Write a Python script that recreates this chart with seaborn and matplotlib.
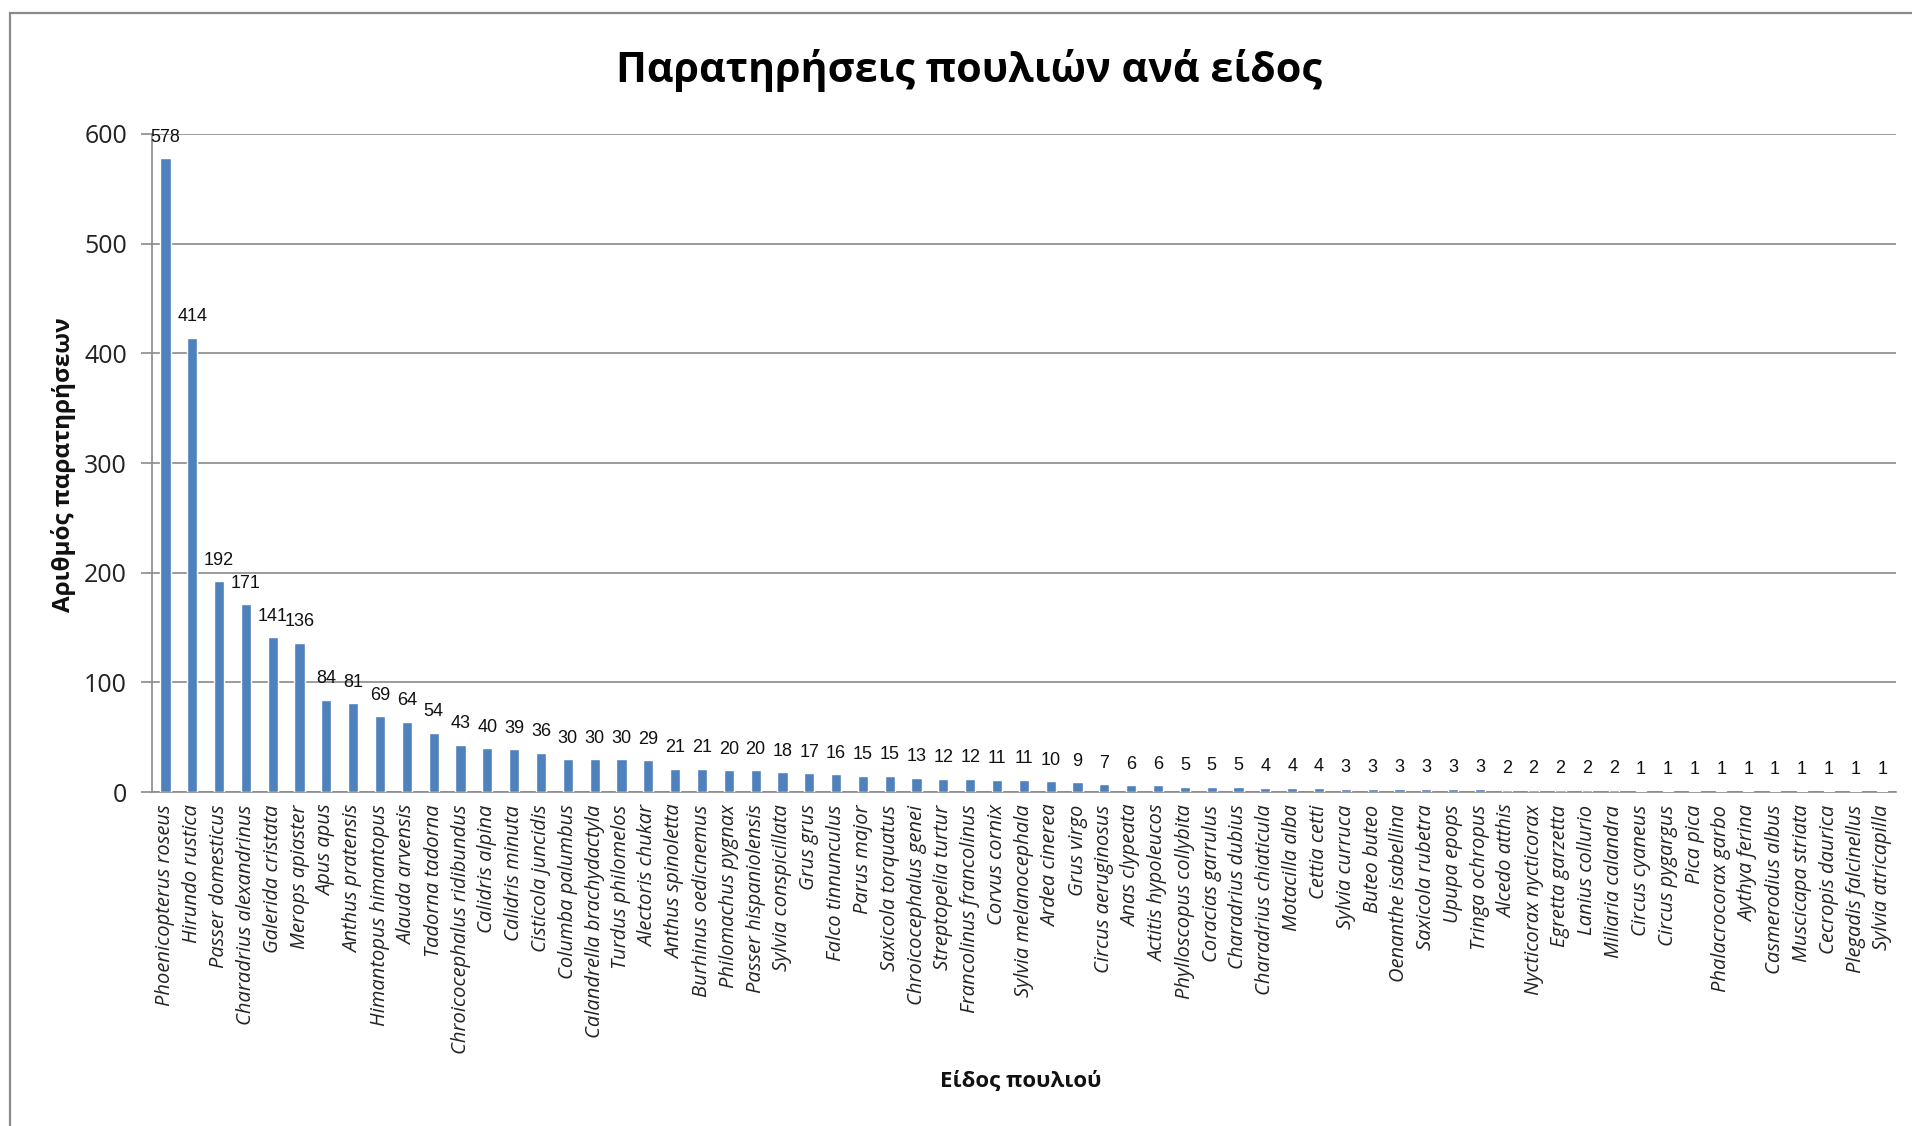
import matplotlib
matplotlib.use("Agg")
import matplotlib.pyplot as plt
import seaborn as sns
import pandas as pd
from matplotlib.patches import Rectangle

species = [
    "Phoenicopterus roseus", "Hirundo rustica", "Passer domesticus", "Charadrius alexandrinus",
    "Galerida cristata", "Merops apiaster", "Apus apus", "Anthus pratensis",
    "Himantopus himantopus", "Alauda arvensis", "Tadorna tadorna", "Chroicocephalus ridibundus",
    "Calidris alpina", "Calidris minuta", "Cisticola juncidis", "Columba palumbus",
    "Calandrella brachydactyla", "Turdus philomelos", "Alectoris chukar", "Anthus spinoletta",
    "Burhinus oedicnemus", "Philomachus pygnax", "Passer hispaniolensis", "Sylvia conspicillata",
    "Grus grus", "Falco tinnunculus", "Parus major", "Saxicola torquatus",
    "Chroicocephalus genei", "Streptopelia turtur", "Francolinus francolinus", "Corvus cornix",
    "Sylvia melanocephala", "Ardea cinerea", "Grus virgo", "Circus aeruginosus",
    "Anas clypeata", "Actitis hypoleucos", "Phylloscopus collybita", "Coracias garrulus",
    "Charadrius dubius", "Charadrius chiaticula", "Motacilla alba", "Cettia cetti",
    "Sylvia curruca", "Buteo buteo", "Oenanthe isabellina", "Saxicola rubetra",
    "Upupa epops", "Tringa ochropus", "Alcedo atthis", "Nycticorax nycticorax",
    "Egretta garzetta", "Lanius collurio", "Miliaria calandra", "Circus cyaneus",
    "Circus pygargus", "Pica pica", "Phalacrocorax garbo", "Aythya ferina",
    "Casmerodius albus", "Muscicapa striata", "Cecropis daurica", "Plegadis falcinellus",
    "Sylvia atricapilla",
]
counts = [
    578, 414, 192, 171, 141, 136, 84, 81, 69, 64, 54, 43, 40, 39, 36, 30,
    30, 30, 29, 21, 21, 20, 20, 18, 17, 16, 15, 15, 13, 12, 12, 11,
    11, 10, 9, 7, 6, 6, 5, 5, 5, 4, 4, 4, 3, 3, 3, 3,
    3, 3, 2, 2, 2, 2, 2, 1, 1, 1, 1, 1, 1, 1, 1, 1,
    1,
]
y_ticks = [0, 100, 200, 300, 400, 500, 600]

title_text = "Παρατηρήσεις πουλιών ανά είδος"
ylabel_text = "Αριθμός παρατηρήσεων"
xlabel_text = "Είδος πουλιού"

df = pd.DataFrame({"species": species, "count": counts})

sns.set_theme(style="white")
plt.rcParams["font.family"] = ["Open Sans", "DejaVu Sans"]

fig = plt.figure(figsize=(19.12, 11.26), dpi=100)
ax = fig.add_axes([0.0795, 0.2966, 0.912, 0.5844])

sns.barplot(data=df, x="species", y="count", color="#4F81BD", saturation=1,
            width=0.38, ax=ax, zorder=3)

ax.set_ylim(0, 600)
ax.set_xlim(-0.5, len(species) - 0.5)
ax.set_yticks(y_ticks)
ax.set_yticklabels([str(v) for v in y_ticks], fontsize=18, color="#222222")
ax.yaxis.grid(True, color="#8a8a8a", linewidth=1.2, zorder=0)
ax.xaxis.grid(False)

ax.set_xticks(range(len(species)))
ax.set_xticklabels(species, rotation=90, fontsize=14.5, style="italic",
                   color="#222222", ha="center", va="top")
ax.tick_params(axis="x", length=0, pad=9)
ax.tick_params(axis="y", length=8, width=1.2, color="#8a8a8a", pad=10, left=True)

for side in ["top", "right"]:
    ax.spines[side].set_visible(False)
for side in ["left", "bottom"]:
    ax.spines[side].set_color("#8a8a8a")
    ax.spines[side].set_linewidth(1.2)

for cont in ax.containers:
    ax.bar_label(cont, labels=[str(v) for v in counts], padding=9, fontsize=13,
                 color="#111111", family=["Liberation Sans Narrow", "Liberation Sans", "DejaVu Sans"])

ax.set_xlabel("")
ax.set_ylabel("")
fig.text(0.534, 0.04, xlabel_text, fontsize=16, fontweight="bold", ha="center", va="center",
         color="#111111")
fig.text(0.033, 0.587, ylabel_text, fontsize=17.5, fontweight="bold", rotation=90,
         ha="center", va="center", color="#111111")
fig.text(0.507, 0.937, title_text, fontsize=29.7, fontweight="bold", ha="center", va="center",
         color="#000000")

fig.add_artist(Rectangle((0.0052, -0.2), 1.5, 1.1885, transform=fig.transFigure,
                         fill=False, edgecolor="#8a8a8a", linewidth=1.6))

fig.savefig("out.png", dpi=100)
